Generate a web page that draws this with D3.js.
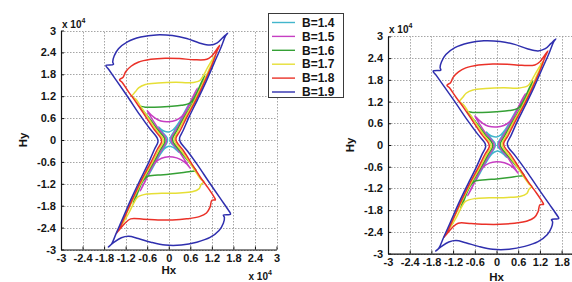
<!DOCTYPE html>
<html>
<head>
<meta charset="utf-8">
<script src="https://cdn.jsdelivr.net/npm/d3@7"></script>
<style>
  body { margin: 0; background: #fff; }
  svg { display: block; }
  text { font-family: "Liberation Sans", Arial, sans-serif; font-weight: bold; fill: #151515; }
</style>
</head>
<body>
<script>
// series names + colours
var seriesNames = ["B=1.4", "B=1.5", "B=1.6", "B=1.7", "B=1.8", "B=1.9"];
var seriesColors = ["#42b6cc", "#c63ec2", "#35a035", "#e6df36", "#ea3128", "#2f2fae"];

// axis ticks (units of 1e4 A/m)
var tickValues = [-3, -2.4, -1.8, -1.2, -0.6, 0, 0.6, 1.2, 1.8, 2.4, 3];
var tickLabels = ["-3", "-2.4", "-1.8", "-1.2", "-0.6", "0", "0.6", "1.2", "1.8", "2.4", "3"];

// loci [Hx, Hy], in x 10^4
var loop14 = [[0.56,0.98],[0.48,0.84],[0.36,0.62],[0.24,0.42],[0.12,0.28],[0.0,0.22],[-0.12,0.24],[-0.22,0.3],
  [-0.28,0.36],[-0.2,0.24],[-0.04,0.05],[-0.04,-0.05],[-0.16,-0.26],[-0.37,-0.62],[-0.56,-0.96],
  [-0.48,-0.82],[-0.36,-0.6],[-0.24,-0.4],[-0.12,-0.24],[0.0,-0.17],[0.12,-0.2],[0.22,-0.28],
  [0.28,-0.34],[0.2,-0.22],[0.04,-0.05],[0.04,0.05],[0.16,0.26],[0.37,0.62]];

var loop15 = [[0.8,1.42],[0.72,1.28],[0.6,1.04],[0.48,0.8],[0.36,0.64],[0.2,0.54],[0.0,0.5],[-0.22,0.52],[-0.38,0.6],[-0.5,0.7],
  [-0.6,0.8],[-0.48,0.6],[-0.28,0.3],[-0.08,0.05],[-0.07,-0.05],[-0.19,-0.26],[-0.4,-0.62],[-0.62,-1.05],
  [-0.8,-1.4],[-0.72,-1.26],[-0.6,-1.02],[-0.5,-0.8],[-0.38,-0.62],[-0.2,-0.5],[0.0,-0.46],[0.22,-0.49],[0.36,-0.55],[0.5,-0.66],
  [0.6,-0.78],[0.48,-0.6],[0.28,-0.3],[0.08,-0.05],[0.07,0.05],[0.19,0.26],[0.4,0.62],[0.62,1.05]];

var loop16 = [[1.0,1.76],[0.92,1.6],[0.82,1.38],[0.7,1.14],[0.6,1.02],[0.35,0.95],[0.0,0.92],[-0.4,0.9],[-0.66,0.9],
  [-0.8,0.92],[-0.73,0.82],[-0.53,0.58],[-0.31,0.28],[-0.12,0.05],[-0.11,-0.05],[-0.23,-0.26],[-0.43,-0.62],[-0.71,-1.1],[-0.88,-1.42],
  [-0.99,-1.74],[-0.92,-1.58],[-0.84,-1.38],[-0.74,-1.16],[-0.6,-1.0],[-0.3,-0.96],[0.0,-0.94],[0.35,-0.9],[0.6,-0.86],
  [0.76,-0.84],[0.7,-0.76],[0.52,-0.55],[0.3,-0.28],[0.12,-0.05],[0.11,0.05],[0.23,0.26],[0.43,0.62],[0.71,1.1],[0.86,1.4]];

var loop17 = [[1.3,2.33],[1.2,2.18],[1.08,1.98],[0.96,1.76],[0.86,1.63],[0.6,1.57],[0.2,1.58],[-0.3,1.56],[-0.65,1.52],[-0.84,1.43],[-0.93,1.32],
  [-1.02,1.2],[-0.92,1.12],[-0.8,0.95],[-0.58,0.62],[-0.35,0.28],[-0.17,0.05],
  [-0.15,-0.05],[-0.27,-0.26],[-0.46,-0.62],[-0.73,-1.1],[-0.98,-1.6],[-1.16,-1.98],[-1.3,-2.25],
  [-1.36,-2.38],[-1.24,-2.22],[-1.1,-1.98],[-0.97,-1.72],[-0.86,-1.56],[-0.6,-1.48],[-0.2,-1.46],[0.3,-1.45],[0.65,-1.42],[0.84,-1.34],[0.9,-1.22],
  [0.98,-1.14],[0.9,-1.08],[0.78,-0.92],[0.57,-0.6],[0.34,-0.28],[0.17,-0.05],
  [0.16,0.05],[0.27,0.26],[0.46,0.62],[0.73,1.1],[0.97,1.6],[1.13,1.95],[1.25,2.2]];

var loop18 = [[1.42,2.6],[1.32,2.46],[1.2,2.3],[1.06,2.21],[0.7,2.2],[0.3,2.23],[-0.1,2.24],[-0.5,2.21],[-0.85,2.13],[-1.05,2.02],[-1.2,1.87],[-1.27,1.72],
  [-1.37,1.65],[-1.3,1.58],[-1.12,1.32],[-0.9,1.02],[-0.63,0.62],[-0.4,0.28],[-0.22,0.05],
  [-0.2,-0.05],[-0.32,-0.26],[-0.5,-0.62],[-0.76,-1.1],[-1.0,-1.6],[-1.2,-2.05],[-1.37,-2.42],
  [-1.46,-2.56],[-1.36,-2.44],[-1.22,-2.28],[-1.06,-2.16],[-0.7,-2.17],[-0.3,-2.19],[0.1,-2.19],[0.5,-2.16],[0.85,-2.1],[1.05,-2.0],[1.15,-1.84],[1.2,-1.65],
  [1.3,-1.64],[1.26,-1.56],[1.1,-1.32],[0.88,-1.02],[0.62,-0.62],[0.4,-0.28],[0.22,-0.05],
  [0.2,0.05],[0.32,0.26],[0.5,0.62],[0.76,1.1],[1.0,1.6],[1.2,2.05],[1.35,2.45]];

var loop19 = [[1.64,2.93],[1.5,2.8],[1.35,2.66],[1.15,2.6],[0.85,2.66],[0.5,2.78],[0.1,2.86],[-0.35,2.88],[-0.78,2.82],[-1.15,2.69],[-1.4,2.5],[-1.52,2.3],[-1.56,2.14],
  [-1.54,2.07],[-1.75,2.04],[-1.67,1.93],[-1.45,1.62],[-1.12,1.15],[-0.8,0.68],[-0.52,0.3],[-0.32,0.05],
  [-0.3,-0.05],[-0.4,-0.26],[-0.56,-0.62],[-0.8,-1.1],[-1.04,-1.6],[-1.26,-2.1],[-1.46,-2.55],[-1.6,-2.86],
  [-1.68,-2.93],[-1.52,-2.8],[-1.32,-2.68],[-1.12,-2.64],[-0.85,-2.7],[-0.5,-2.8],[-0.1,-2.88],[0.35,-2.88],[0.78,-2.8],[1.15,-2.67],[1.4,-2.48],[1.52,-2.28],[1.55,-2.12],
  [1.52,-2.06],[1.72,-2.03],[1.66,-1.92],[1.45,-1.62],[1.12,-1.15],[0.8,-0.68],[0.52,-0.3],[0.32,-0.05],
  [0.3,0.05],[0.4,0.26],[0.56,0.62],[0.8,1.1],[1.04,1.6],[1.26,2.1],[1.46,2.55],[1.58,2.85]];

var loops = [loop14, loop15, loop16, loop17, loop18, loop19];

var W = 572, H = 282;
var svg = d3.select("body").append("svg").attr("width", W).attr("height", H);

function drawPanel(px, py, opts) {
    var x = d3.scaleLinear().domain([-3, 3]).range(px);
    var y = d3.scaleLinear().domain([-3, 3]).range(py);
    var g = svg.append("g");

    // grid
    g.append("g").selectAll("line.gx").data(tickValues).enter().append("line")
        .attr("x1", function(d) { return Math.round(x(d)) + 0.5; })
        .attr("x2", function(d) { return Math.round(x(d)) + 0.5; })
        .attr("y1", py[0]).attr("y2", py[1])
        .attr("stroke", "#8e8e8e").attr("stroke-width", 0.8).attr("stroke-dasharray", "1.5,1.5");
    g.append("g").selectAll("line.gy").data(tickValues).enter().append("line")
        .attr("y1", function(d) { return Math.round(y(d)) + 0.5; })
        .attr("y2", function(d) { return Math.round(y(d)) + 0.5; })
        .attr("x1", px[0]).attr("x2", px[1])
        .attr("stroke", "#8e8e8e").attr("stroke-width", 0.8).attr("stroke-dasharray", "1.5,1.5");

    // curves
    var line = d3.line()
        .x(function(d) { return x(d[0]); })
        .y(function(d) { return y(d[1]); })
        .curve(d3.curveCatmullRomClosed.alpha(0.5));
    g.append("g").selectAll("path").data(loops).enter().append("path")
        .attr("d", line)
        .attr("fill", "none")
        .attr("stroke", function(d, i) { return seriesColors[i]; })
        .attr("stroke-width", 1.5)
        .attr("stroke-linejoin", "round");

    // axes, matlab-like inner ticks; only ticks that fit in the window
    var xTicks = tickValues.filter(function(d) { return x(d) + 9 < W; });
    var fmtX = function(d) { return tickLabels[tickValues.indexOf(d)]; };
    g.append("g")
        .attr("transform", "translate(0," + py[0] + ")")
        .call(d3.axisBottom(x).tickValues(xTicks).tickFormat(fmtX).tickSizeInner(-3).tickSizeOuter(0).tickPadding(5));
    g.append("g")
        .attr("transform", "translate(" + px[0] + ",0)")
        .call(d3.axisLeft(y).tickValues(tickValues).tickFormat(fmtX).tickSizeInner(-3).tickSizeOuter(0).tickPadding(5));
    g.selectAll(".domain").attr("stroke", "#111").attr("stroke-width", 1.2);
    g.selectAll(".tick line").attr("stroke", "#111");
    g.selectAll(".tick text")
        .attr("font-family", "Liberation Sans, Arial, sans-serif")
        .attr("font-weight", "bold")
        .attr("font-size", 11)
        .attr("fill", "#151515");

    // labels
    g.append("text").attr("x", x(0)).attr("y", opts.hxY)
        .attr("text-anchor", "middle").attr("font-size", 11.5).text("Hx");
    g.append("text")
        .attr("transform", "translate(" + opts.hyX + "," + y(0) + ") rotate(-90)")
        .attr("text-anchor", "middle").attr("font-size", 11.5).text("Hy");

    var e1 = g.append("text").attr("x", px[0] + 1).attr("y", py[1] - 3).attr("font-size", 10);
    e1.append("tspan").text("x 10");
    e1.append("tspan").attr("font-size", 7).attr("dy", -5).text("4");

    if (opts.bottomExp) {
        var e2 = g.append("text").attr("x", px[1] - 28).attr("y", 280).attr("font-size", 10);
        e2.append("tspan").text("x 10");
        e2.append("tspan").attr("font-size", 7).attr("dy", -5).text("4");
    }
}

drawPanel([61, 276.5], [249.5, 30.5], { hxY: 274, hyX: 27, bottomExp: true });
drawPanel([388, 605], [253.6, 36.4], { hxY: 281, hyX: 354, bottomExp: false });

// legend
var leg = svg.append("g");
leg.append("rect").attr("x", 268.5).attr("y", 13.5).attr("width", 75).attr("height", 84)
    .attr("fill", "#fff").attr("stroke", "#3a3a3a").attr("stroke-width", 1);
var items = leg.selectAll("g.item").data(seriesNames).enter().append("g")
    .attr("transform", function(d, i) { return "translate(0," + (22.5 + i * 13.9) + ")"; });
items.append("line").attr("x1", 272).attr("x2", 295).attr("y1", 0).attr("y2", 0)
    .attr("stroke", function(d, i) { return seriesColors[i]; }).attr("stroke-width", 1.4);
items.append("text").attr("x", 302).attr("y", 4.2).attr("font-size", 12).text(function(d) { return d; });
</script>
</body>
</html>
